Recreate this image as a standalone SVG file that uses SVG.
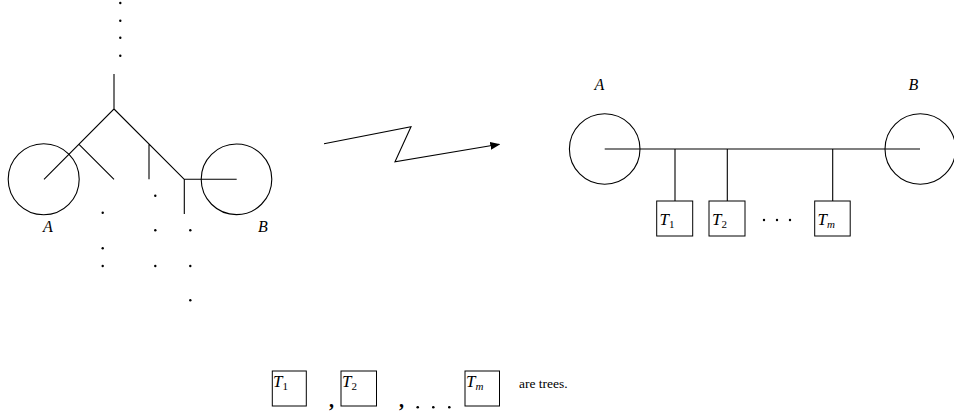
<svg xmlns="http://www.w3.org/2000/svg" width="954" height="416" viewBox="0 0 954 416">
<style>
.ln{stroke:#000;stroke-width:1.1;fill:none}
.c{stroke:#000;stroke-width:1.1;fill:none}
.bx{stroke:#000;stroke-width:1;fill:#fff}
text{font-family:"Liberation Serif","DejaVu Serif",serif;fill:#000}
.lab{font-style:italic;font-size:16px}
.t{font-style:italic;font-size:17px}
.sub{font-style:normal;font-size:11px}
.subi{font-style:italic;font-size:11px}
.txt{font-style:normal;font-size:13.5px}
.cm{font-style:normal;font-size:20px;font-weight:bold}
</style>
<defs>
<marker id="ah" markerWidth="10" markerHeight="8" refX="9" refY="4" orient="auto" markerUnits="userSpaceOnUse">
<path d="M0,0 L10,4 L0,8 Z" fill="#000"/>
</marker>
</defs>
<rect width="954" height="416" fill="#fff"/>
<g id="leftCircleA"><circle class="c" cx="43.7" cy="179.3" r="35.5"/><text class="lab" x="48" y="232" text-anchor="middle">A</text></g>
<g id="leftCircleB"><circle class="c" cx="236.5" cy="179.3" r="35.3"/><text class="lab" x="263" y="232" text-anchor="middle">B</text></g>
<g id="tree">
<path class="ln" d="M114,74 L114,109 L44,179.3 M79,144.3 L114,179.3 M114,109 L184.3,179.3 M149,144.3 L149,179.3 M184.3,179.3 L236.7,179.3 M184.3,179.3 L184.3,214"/>
<g fill="#000">
<circle cx="120.3" cy="3" r="1.2"/><circle cx="120.3" cy="20.7" r="1.2"/><circle cx="120.3" cy="37.7" r="1.2"/><circle cx="120.3" cy="55.7" r="1.2"/>
<circle cx="102.7" cy="212.7" r="1.2"/><circle cx="102.7" cy="248.3" r="1.2"/><circle cx="102.7" cy="266" r="1.2"/>
<circle cx="155.3" cy="195.7" r="1.2"/><circle cx="155.3" cy="230.3" r="1.2"/><circle cx="155.3" cy="266" r="1.2"/>
<circle cx="190.3" cy="230.3" r="1.2"/><circle cx="190.3" cy="266" r="1.2"/><circle cx="190.3" cy="300.3" r="1.2"/>
</g>
</g>
<g id="connectors">
<path class="ln" d="M324,143.7 L411,126.7 L395,161.7 L499.3,144.3" marker-end="url(#ah)"/>
</g>
<g id="rightCircleA"><circle class="c" cx="604.7" cy="149" r="35.3"/><text class="lab" x="599.3" y="90" text-anchor="middle">A</text></g>
<g id="rightCircleB"><circle class="c" cx="920.3" cy="149" r="35.3"/><text class="lab" x="913.3" y="90" text-anchor="middle">B</text></g>
<g id="spine">
<path class="ln" d="M604.7,149 L920,149 M675,149 L675,201 M727.3,149 L727.3,201 M832.7,149 L832.7,201"/>
</g>
<g id="boxT1"><rect class="bx" x="656.7" y="201" width="36" height="35"/><text class="t" x="659.5" y="225">T<tspan class="sub" dy="3">1</tspan></text></g>
<g id="boxT2"><rect class="bx" x="709" y="201" width="36" height="35"/><text class="t" x="712" y="225">T<tspan class="sub" dy="3">2</tspan></text></g>
<g id="dotsR" fill="#000"><circle cx="764" cy="220" r="1.2"/><circle cx="777" cy="220" r="1.2"/><circle cx="790" cy="220" r="1.2"/></g>
<g id="boxTm"><rect class="bx" x="814.7" y="201" width="35.5" height="35"/><text class="t" x="817.5" y="225">T<tspan class="subi" dy="3">m</tspan></text></g>
<g id="legT1"><rect class="bx" x="272.3" y="371" width="34" height="35"/><text class="t" x="273" y="387">T<tspan class="sub" dy="3">1</tspan></text></g>
<text class="cm" x="329" y="407">,</text>
<g id="legT2"><rect class="bx" x="341" y="371" width="35.5" height="35"/><text class="t" x="342" y="387">T<tspan class="sub" dy="3">2</tspan></text></g>
<text class="cm" x="399" y="407">,</text>
<g fill="#000"><circle cx="417.7" cy="407.3" r="1.3"/><circle cx="433.3" cy="407.3" r="1.3"/><circle cx="449.3" cy="407.3" r="1.3"/></g>
<g id="legTm"><rect class="bx" x="465" y="371" width="34.5" height="35"/><text class="t" x="466" y="387">T<tspan class="subi" dy="3">m</tspan></text></g>
<text class="txt" x="519" y="388">are trees.</text>
</svg>
